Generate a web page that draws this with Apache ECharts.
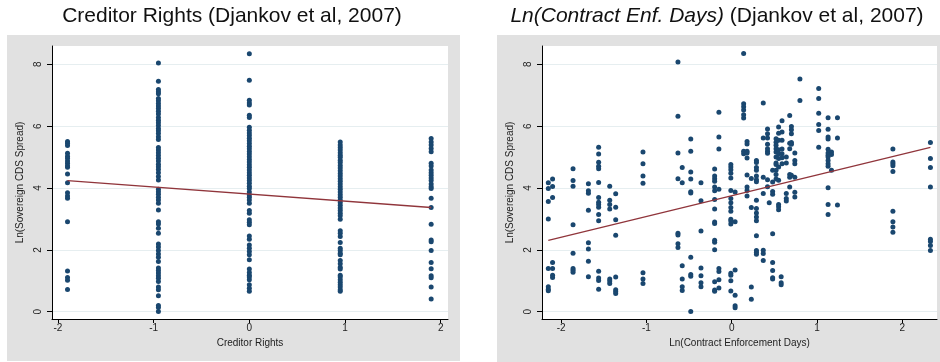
<!DOCTYPE html>
<html><head><meta charset="utf-8">
<script src="https://cdn.jsdelivr.net/npm/echarts@6/dist/echarts.min.js"></script>
<style>html,body{margin:0;padding:0;background:#fff}#c{width:940px;height:362px}</style>
</head><body><div id="c"></div>
<script>
// ---- Left panel: Creditor Rights (standardized) ----
const crX = [-1.9, -0.95, 0, 0.95, 1.9];
const crY_m2 = [5.50,5.45,5.37,5.12,5.03,4.96,4.87,4.80,4.72,4.67,4.45,4.17,3.85,3.74,3.67,2.91,1.32,1.11,1.02,0.72];
const crY_m1 = [8.04,7.45,7.18,7.11,7.05,6.89,6.82,6.73,6.65,6.57,6.48,6.39,6.28,6.19,6.11,6.02,5.92,5.85,5.76,5.66,5.57,
  5.31,5.23,5.14,5.05,4.96,4.87,4.77,4.69,4.60,4.49,4.37,4.26,3.96,3.88,3.80,3.70,3.61,3.51,3.29,2.91,2.84,2.70,2.54,
  2.19,2.09,1.98,1.87,1.76,1.62,1.41,1.33,1.25,1.16,1.08,0.98,0.80,0.71,0.52,0.20,0.14,0.01];
const crY_0 = [8.34,7.48,6.84,6.75,6.68,6.35,6.28,5.96,5.87,5.78,5.70,5.61,5.53,5.44,5.35,5.27,5.18,5.10,5.01,4.92,4.84,
  4.75,4.67,4.58,4.49,4.41,4.32,4.24,4.15,4.06,3.98,3.87,3.77,3.70,3.61,3.51,3.27,3.18,2.97,2.89,2.81,2.45,2.34,
  2.16,2.05,1.95,1.84,1.68,1.38,1.27,1.18,1.12,1.03,0.87,0.76,0.66];
const crY_p1 = [5.49,5.39,5.31,5.23,5.14,5.06,4.99,4.90,4.82,4.73,4.65,4.56,4.47,4.39,4.30,4.22,4.13,4.04,3.96,3.87,3.78,
  3.70,3.61,3.53,3.44,3.35,3.27,3.18,3.10,2.99,2.62,2.54,2.43,2.24,2.05,1.98,1.89,1.84,1.66,1.55,1.44,1.38,
  1.18,1.12,1.03,0.95,0.87,0.80,0.71,0.66];
const crY_p2 = [5.60,5.49,5.39,5.28,5.17,4.80,4.71,4.58,4.49,4.41,4.32,4.24,4.13,4.04,3.98,3.67,3.37,2.83,2.32,2.26,
  1.98,1.59,1.39,1.16,1.10,0.80,0.41];
const crFitX = [-1.9, 1.9];
const crFitY = [4.24, 3.37];

// ---- Right panel: Ln(Contract Enforcement Days) (standardized) ----
const ceX = [-2.15,-2.10,-1.86,-1.68,-1.56,-1.43,-1.36,-1.04,-0.63,-0.58,-0.48,-0.36,-0.20,-0.15,-0.01,0.04,0.14,0.18,
  0.23,0.29,0.37,0.42,0.44,0.48,0.52,0.55,0.58,0.59,0.64,0.68,0.70,0.74,0.80,1.02,1.13,1.17,1.24,1.89,2.33];
const ceY = [
  [4.17,3.98,3.56,3.00,1.40,0.81,0.73,0.68],
  [4.29,4.05,3.69,1.59,1.40,1.18,1.11],
  [4.62,4.24,4.06,2.81,1.89,1.40,1.34,1.28],
  [4.14,3.91,3.83,3.28,2.23,2.03,1.63,1.13],
  [5.32,5.10,4.83,4.70,4.62,4.18,3.69,3.54,3.47,3.38,3.14,2.94,1.31,1.09,1.01,0.73],
  [4.06,3.60,3.47,3.32,1.06,0.99,0.91],
  [3.81,3.38,2.97,2.47,1.12,0.71,0.65,0.59],
  [5.16,4.78,4.39,4.15,1.26,1.06,0.91],
  [8.07,6.32,5.13,4.30,2.54,2.48,2.20,2.08],
  [4.66,4.17,1.49,1.06,0.81,0.69],
  [5.58,5.19,4.52,4.29,3.88,3.84,1.76,1.20,1.15,0.01],
  [4.17,3.59,2.61,1.41,1.16,0.94,0.81],
  [4.61,4.39,4.30,4.22,4.03,3.91,3.63,3.32,2.90,2.85,2.31,2.25,2.00,0.97,0.70,0.66],
  [6.45,5.65,5.26,3.96,1.40,1.30,1.03,0.77],
  [4.76,4.68,4.59,4.48,4.32,3.92,3.66,3.52,3.37,3.25,2.99,2.93,2.84,1.24,1.18,1.00,0.67],
  [3.87,2.91,1.35,0.53,0.19,0.13],
  [8.35,6.72,6.63,6.52,6.37,6.26,5.19,5.11],
  [5.50,5.42,5.19,5.13,4.97,4.42,4.03,3.92,3.74],
  [4.31,3.37,0.80,0.40],
  [4.89,4.82,4.66,4.57,4.39,4.27,4.20,3.60,3.34,3.19,3.06,2.94,2.46,1.98,1.92,1.86],
  [6.75,5.62,4.35,3.82,1.99,1.88,1.66],
  [5.91,5.75,5.62,5.41,5.27,5.19,5.12,4.27,4.04],
  [3.52],
  [4.57,4.19,3.89,3.80,2.52,1.59,1.33,1.10,1.06],
  [5.59,5.48,5.38,5.27,5.16,5.00,4.81,4.76,4.57,4.44,4.29],
  [5.97,5.77,5.54,5.24,5.11,4.95,4.68,4.25,3.47,3.39,3.30],
  [1.13,0.94,0.87],
  [6.17,5.81,5.54,5.26,5.11,4.98,4.78],
  [5.00,4.81,3.82,3.66,3.58],
  [6.34,5.45,5.27,4.44,4.35,4.03],
  [5.99,5.88,5.75,5.47,5.41,4.41],
  [5.13,4.89,4.78,4.35,3.86,3.71],
  [7.52,6.83],
  [7.22,6.89,6.42,6.05,5.86,5.32],
  [6.27,5.90,5.65,5.58,5.25,5.13,5.06,5.00,4.89,4.78,4.70,4.01,3.47,3.14],
  [5.16,5.08,4.57],
  [6.27,5.62,3.45],
  [5.26,4.84,4.78,4.72,4.53,3.25,2.91,2.74,2.57],
  [5.47,4.95,4.66,4.03,2.34,2.27,2.14,1.98]
];
const ceFitX = [-2.15, 2.33];
const ceFitY = [2.31, 5.31];

const xTicks = [-2, -1, 0, 1, 2];
const yTicks = [0, 2, 4, 6, 8];
const titleLeft = 'Creditor Rights (Djankov et al, 2007)';
const titleRightItalic = 'Ln(Contract Enf. Days)';
const titleRightRest = ' (Djankov et al, 2007)';
const xNameLeft = 'Creditor Rights';
const xNameRight = 'Ln(Contract Enforcement Days)';
const yName = 'Ln(Sovereign CDS Spread)';

// ---- build ----
const crCols = [crY_m2, crY_m1, crY_0, crY_p1, crY_p2];
const crPts = [];
crCols.forEach((ys, i) => ys.forEach(y => crPts.push([crX[i], y])));
const cePts = [];
ceY.forEach((ys, i) => ys.forEach(y => cePts.push([ceX[i], y])));

const DOT = '#1a476f', FIT = '#90353b', GRIDC = '#e6eef0', TXT = '#222';
const FONT = 'Liberation Sans';

function xAxis(idx, min, max, name) {
  return {
    type: 'value', gridIndex: idx, min: min, max: max,
    name: name, nameLocation: 'middle', nameGap: 19,
    nameTextStyle: { fontSize: 10, color: TXT, fontFamily: FONT },
    axisLine: { show: true, onZero: false, lineStyle: { color: '#000', width: 1 } },
    axisTick: { show: true, length: 4, customValues: xTicks, lineStyle: { color: '#000' } },
    axisLabel: { customValues: xTicks, fontSize: 10, color: TXT, margin: 4, fontFamily: FONT },
    splitLine: { show: false }
  };
}
function yAxis(idx) {
  return {
    type: 'value', gridIndex: idx, min: -0.235, max: 8.59,
    name: yName, nameLocation: 'middle', nameGap: 27, nameRotate: 90,
    nameTextStyle: { fontSize: 10, color: TXT, fontFamily: FONT },
    axisLine: { show: true, onZero: false, lineStyle: { color: '#000', width: 1 } },
    axisTick: { show: true, length: 5, customValues: yTicks, lineStyle: { color: '#000' } },
    axisLabel: { customValues: yTicks, rotate: 90, fontSize: 10, color: TXT, margin: 9, fontFamily: FONT },
    splitLine: { show: true, lineStyle: { color: GRIDC, width: 1 } }
  };
}

const chart = echarts.init(document.getElementById('c'), null, { renderer: 'canvas' });
chart.setOption({
  animation: false,
  backgroundColor: '#fff',
  graphic: [
    { type: 'rect', z: -10, shape: { x: 7, y: 35, width: 453, height: 326 }, style: { fill: '#e1e1e1' } },
    { type: 'rect', z: -10, shape: { x: 497, y: 35, width: 443, height: 327 }, style: { fill: '#e1e1e1' } }
  ],
  title: [
    { text: titleLeft, left: 232, top: 6, textAlign: 'center', padding: 0,
      textStyle: { fontSize: 21, fontWeight: 'normal', color: '#111', fontFamily: FONT } },
    { text: '{i|' + titleRightItalic + '}' + titleRightRest, left: 717, top: 6, textAlign: 'center', padding: 0,
      textStyle: { fontSize: 21, fontWeight: 'normal', color: '#111', fontFamily: FONT,
        rich: { i: { fontStyle: 'italic', fontSize: 21, color: '#111', fontFamily: FONT } } } }
  ],
  grid: [
    { left: 52, right: 492, top: 46, bottom: 43, show: true, backgroundColor: '#fff', borderWidth: 0 },
    { left: 542, right: 3, top: 46, bottom: 43, show: true, backgroundColor: '#fff', borderWidth: 0 }
  ],
  xAxis: [ xAxis(0, -2.062, 2.076, xNameLeft), xAxis(1, -2.224, 2.407, xNameRight) ],
  yAxis: [ yAxis(0), yAxis(1) ],
  series: [
    { type: 'scatter', xAxisIndex: 0, yAxisIndex: 0, data: crPts, symbolSize: 5,
      itemStyle: { color: DOT, opacity: 1 }, z: 3 },
    { type: 'line', xAxisIndex: 0, yAxisIndex: 0, data: crFitX.map((x, i) => [x, crFitY[i]]),
      symbol: 'none', lineStyle: { color: FIT, width: 1.3 }, z: 4 },
    { type: 'scatter', xAxisIndex: 1, yAxisIndex: 1, data: cePts, symbolSize: 5,
      itemStyle: { color: DOT, opacity: 1 }, z: 3 },
    { type: 'line', xAxisIndex: 1, yAxisIndex: 1, data: ceFitX.map((x, i) => [x, ceFitY[i]]),
      symbol: 'none', lineStyle: { color: FIT, width: 1.3 }, z: 4 }
  ]
});
</script></body></html>
